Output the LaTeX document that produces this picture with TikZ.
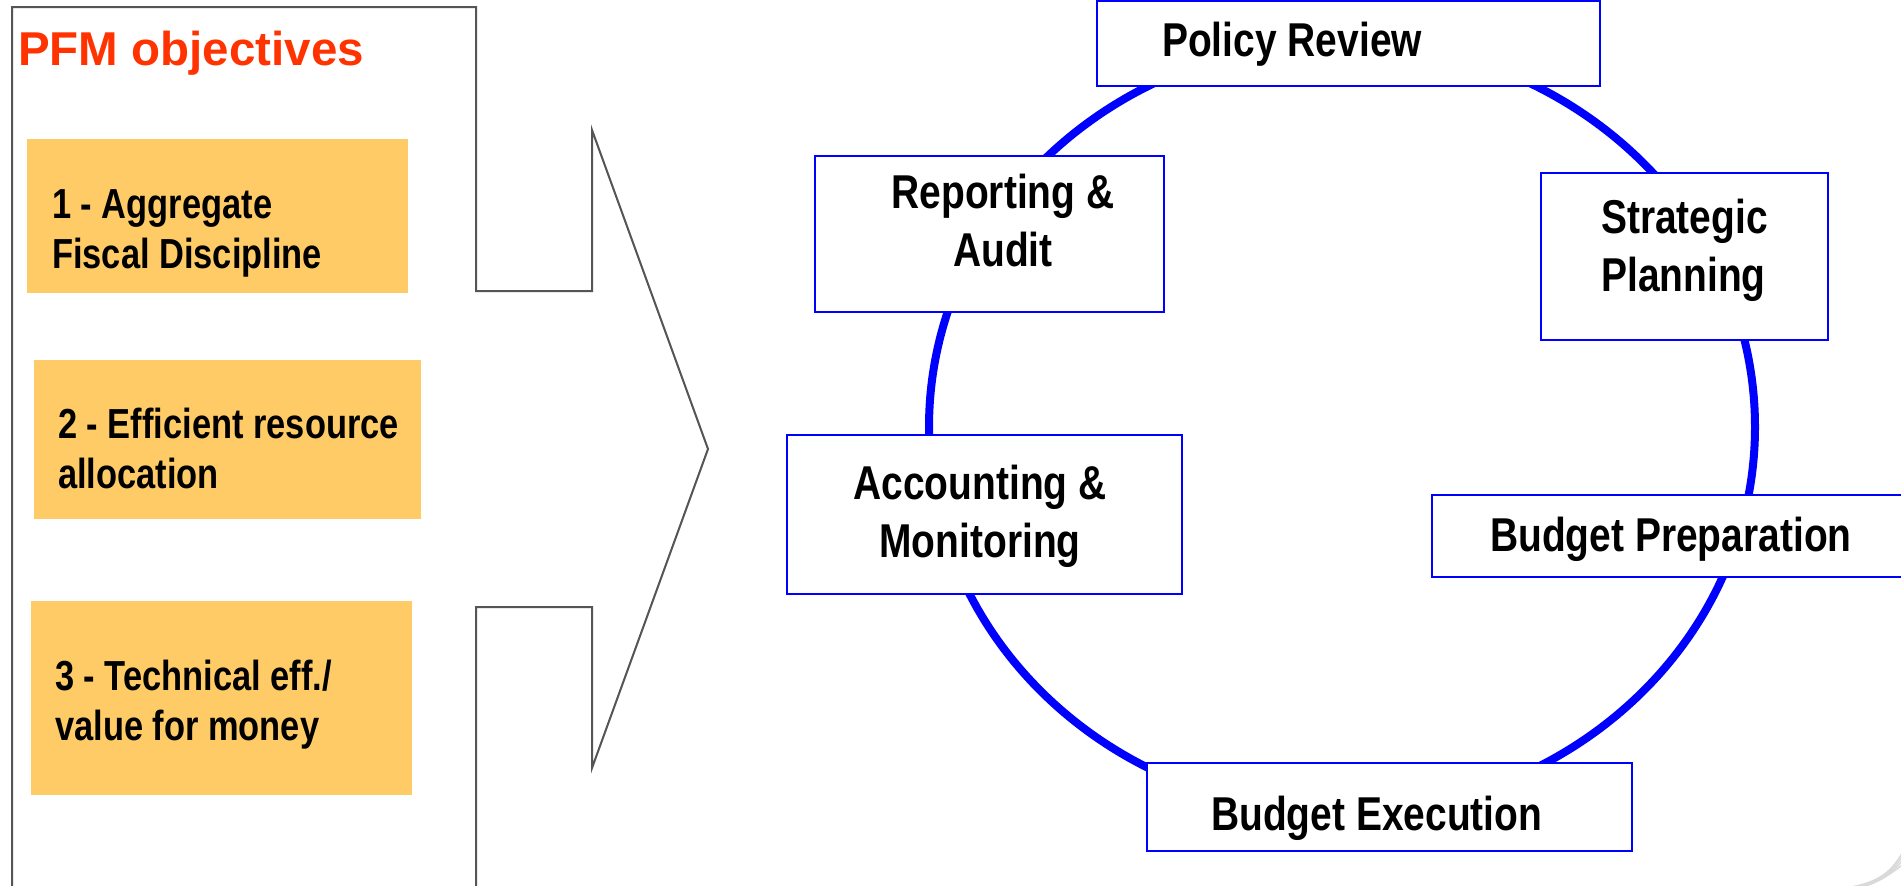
\documentclass[tikz,border=0pt]{standalone}
\usepackage{fontspec}
\setmainfont{Liberation Sans}
\newfontfamily\narrowfont[FakeStretch=0.82]{Liberation Sans}

\definecolor{ringblue}{RGB}{0,0,255}
\definecolor{objyellow}{RGB}{254,203,102}
\definecolor{pfmred}{RGB}{255,51,0}
\definecolor{outlinegray}{RGB}{85,85,85}

\tikzset{
  ring/.style={draw=ringblue, line width=8pt},
  stagebox/.style={draw=ringblue, fill=white, line width=2.5pt},
  stagetext/.style={font=\narrowfont\bfseries\fontsize{47.5}{58}\selectfont, inner sep=0pt},
  objbox/.style={fill=objyellow},
  objtext/.style={font=\narrowfont\bfseries\fontsize{42}{50}\selectfont, align=left, inner sep=0pt},
  outline/.style={draw=outlinegray, line width=2pt, line join=miter},
}

\begin{document}
\begin{tikzpicture}[x=1pt, y=-1pt]
\useasboundingbox (0,0) rectangle (1901,886);
\fill[white] (0,0) rectangle (1901,886);
\clip (0,0) rectangle (1901,886);

% objectives panel with arrow
\draw[outline] (12,900) -- (12,7) -- (476,7) -- (476,291) -- (592,291) -- (592,130)
  -- (708,449) -- (592,768) -- (592,607) -- (476,607) -- (476,900);
\node[font=\bfseries\fontsize{47.5}{57}\selectfont, text=pfmred, inner sep=0pt, anchor=base west] (title) at (18,65) {PFM objectives};

\fill[objbox] (27,139) rectangle (408,293);
\fill[objbox] (34,360) rectangle (421,519);
\fill[objbox] (31,601) rectangle (412,795);
% multi-line nodes: base is the last line
\node[objtext, anchor=base west] (obj1) at (52,268) {1 - Aggregate\\Fiscal Discipline};
\node[objtext, anchor=base west] (obj2) at (58,488) {2 - Efficient resource\\allocation};
\node[objtext, anchor=base west] (obj3) at (55,740) {3 - Technical eff./\\value for money};

% budget cycle
\draw[ring] (1342,427) ellipse [x radius=413pt, y radius=386pt];

\draw[stagebox] (1097,1) rectangle (1600,86);
\draw[stagebox] (815,156) rectangle (1164,312);
\draw[stagebox] (1541,173) rectangle (1828,340);
\draw[stagebox] (1432,495) rectangle (1920,577);
\draw[stagebox] (1147,763) rectangle (1632,851);
\draw[stagebox] (787,435) rectangle (1182,594);

\node[stagetext, anchor=base west] (review) at (1162,56) {Policy Review};
\node[stagetext, align=center, anchor=base] (report) at (1003,266) {Reporting \&\\Audit};
\node[stagetext, align=left, anchor=base west] (strategy) at (1601,291) {Strategic\\Planning};
\node[stagetext, anchor=base west] (prep) at (1490,551) {Budget Preparation};
\node[stagetext, anchor=base west] (exec) at (1211,830) {Budget Execution};
\node[stagetext, align=center, anchor=base] (account) at (980,557) {Accounting \&\\Monitoring};

% corner swoosh
\foreach \d in {0,5,10,15}
  \draw[black!15, line width=1.5pt] (1838+\d,889) .. controls (1880,884) and (1892,872) .. (1905,848+\d);
\end{tikzpicture}
\end{document}
